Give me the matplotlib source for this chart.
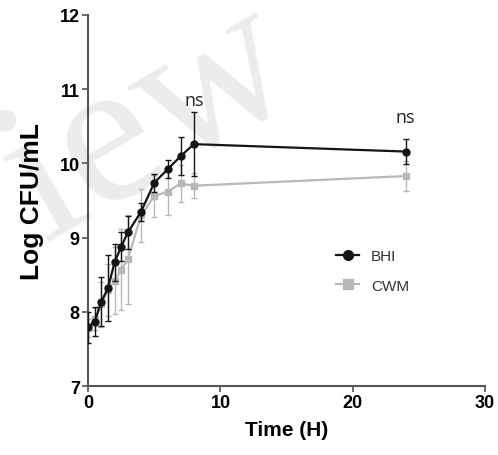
import matplotlib
matplotlib.use('Agg')
import matplotlib.pyplot as plt
from matplotlib.lines import Line2D

# growth curve, log CFU/mL
time_h = [0, 0.5, 1, 1.5, 2, 2.5, 3, 4, 5, 6, 7, 8, 24]
bhi = [7.79, 7.87, 8.14, 8.32, 8.67, 8.88, 9.07, 9.35, 9.74, 9.92, 10.10, 10.26, 10.16]
bhi_err = [0.21, 0.20, 0.33, 0.44, 0.25, 0.20, 0.22, 0.12, 0.12, 0.12, 0.26, 0.43, 0.17]
cwm = [7.78, 7.90, 8.10, 8.30, 8.42, 8.57, 8.71, 9.30, 9.56, 9.62, 9.73, 9.70, 9.83]
cwm_err = [0.12, 0.15, 0.30, 0.35, 0.45, 0.55, 0.60, 0.36, 0.28, 0.32, 0.25, 0.17, 0.20]

ns_x = [8, 24]
ns_y = [10.85, 10.63]

BLACK = '#151515'
GREY = '#b8b8b8'

fig = plt.figure(figsize=(4.98, 4.56), dpi=100)

# faint watermark behind everything
fig.text(0.30, 0.73, 'iew', fontsize=150, family='Liberation Serif',
         color='#ececec', rotation=30, ha='center', va='center', zorder=0)

ax = fig.add_axes([0.177, 0.151, 0.797, 0.814])
ax.set_zorder(2)
ax.patch.set_alpha(0)

ax.errorbar(time_h, cwm, yerr=cwm_err, color=GREY, marker='s', ms=5,
            lw=1.6, elinewidth=1.0, capsize=2.5, capthick=1.0, zorder=2)
ax.errorbar(time_h, bhi, yerr=bhi_err, color=BLACK, marker='o', ms=5,
            lw=1.6, elinewidth=1.0, capsize=2.5, capthick=1.0, zorder=3)

for x, y in zip(ns_x, ns_y):
    ax.text(x, y, 'ns', ha='center', va='center', fontsize=13, family='Open Sans', color='#222222')

ax.set_xlim(0, 30)
ax.set_ylim(7, 12)
ax.set_xticks([0, 10, 20, 30])
ax.set_yticks([7, 8, 9, 10, 11, 12])

for s in ['top', 'right']:
    ax.spines[s].set_visible(False)
for s in ['left', 'bottom']:
    ax.spines[s].set_color('#555555')
    ax.spines[s].set_linewidth(1.5)

ax.tick_params(direction='out', length=4, width=1.2, color='#555555', pad=2)
for lbl in ax.get_xticklabels() + ax.get_yticklabels():
    lbl.set_fontweight('bold')
    lbl.set_fontsize(13)
    lbl.set_family('Liberation Sans')

ax.set_xlabel('Time (H)', fontsize=15, fontweight='bold', family='Liberation Sans', labelpad=6)
ax.set_ylabel('Log CFU/mL', fontsize=19, fontweight='bold', family='Liberation Sans', labelpad=11)

handles = [Line2D([], [], color=BLACK, marker='o', ms=7, lw=1.6),
           Line2D([], [], color=GREY, marker='s', ms=7, lw=1.6)]
leg = ax.legend(handles, ['BHI', 'CWM'], loc='center left', bbox_to_anchor=(0.59, 0.31),
                frameon=False, handlelength=1.5, labelspacing=1.0,
                prop={'family': 'Liberation Sans', 'size': 11})
for t in leg.get_texts():
    t.set_color('#333333')

plt.savefig('out.png', dpi=100)
